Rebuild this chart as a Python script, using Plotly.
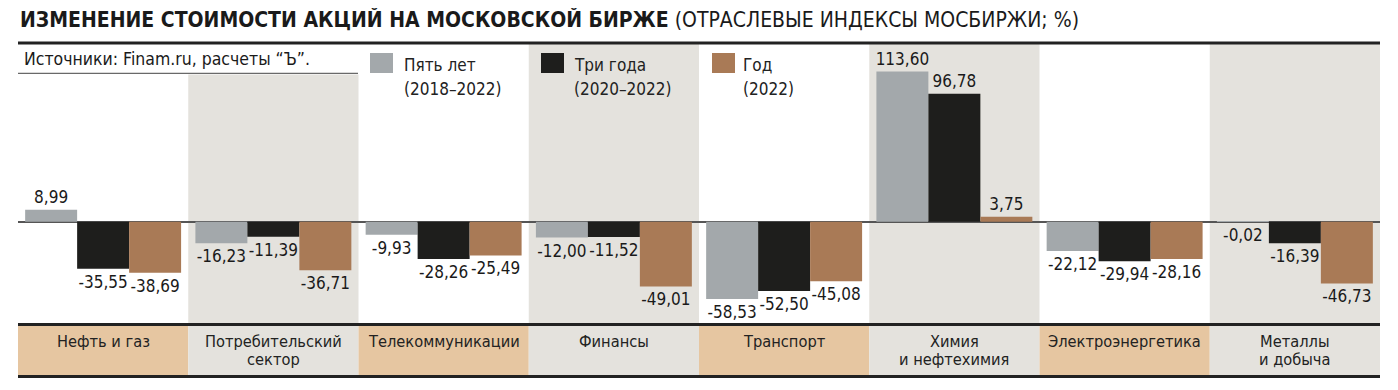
import plotly.graph_objects as go

categories = ["Нефть и газ", "Потребительский сектор", "Телекоммуникации", "Финансы",
              "Транспорт", "Химия и нефтехимия", "Электроэнергетика", "Металлы и добыча"]
cat_lines = [["Нефть и газ"], ["Потребительский", "сектор"], ["Телекоммуникации"], ["Финансы"],
             ["Транспорт"], ["Химия", "и нефтехимия"], ["Электроэнергетика"], ["Металлы", "и добыча"]]
five_years = [8.99, -16.23, -9.93, -12.00, -58.53, 113.60, -22.12, -0.02]
three_years = [-35.55, -11.39, -28.26, -11.52, -52.50, 96.78, -29.94, -16.39]
one_year = [-38.69, -36.71, -25.49, -49.01, -45.08, 3.75, -28.16, -46.73]
series_names = ["Пять лет", "Три года", "Год"]
series_periods = ["(2018–2022)", "(2020–2022)", "(2022)"]
series_colors = ["#a3a8ab", "#1e1e1c", "#a97a56"]

FONT = "Liberation Sans Narrow, DejaVu Sans Condensed, Arial Narrow, sans-serif"
# page has an 8px body margin; figure placed at (8, 8)
OFF = 8
W, H = 1398 - OFF, 390 - OFF
PL, PR, PT, PB = 18, 1380, 44, 323  # plot area in page pixels
L, R, T, B = PL - OFF, W + OFF - PR, PT - OFF, H + OFF - PB
PW, PH = PR - PL, PB - PT


def px(x):
    return (x - PL) / PW


def py(y):
    return (PB - y) / PH


def fmt(v):
    return f"{v:.2f}".replace(".", ",")


fig = go.Figure()
for name, vals, col in zip(series_names, [five_years, three_years, one_year], series_colors):
    fig.add_trace(go.Bar(
        x=list(range(len(categories))), y=vals, name=name, marker=dict(color=col, line=dict(width=0)),
        text=[fmt(v) for v in vals], textposition="outside", constraintext="none",
        cliponaxis=False, textfont=dict(family=FONT, size=17, color="#1a1a1a"),
        hoverinfo="skip"))

shapes = []
annotations = []
n = len(categories)
for i in range(n):
    if i % 2 == 1:
        top = py(74.5) if i == 1 else 1
        shapes.append(dict(type="rect", xref="x", yref="paper", x0=i - 0.5, x1=i + 0.5,
                           y0=0, y1=top, fillcolor="#e4e2dd", line=dict(width=0), layer="below"))
    shapes.append(dict(type="rect", xref="x", yref="paper", x0=i - 0.5, x1=i + 0.5,
                       y0=py(376), y1=0, fillcolor="#e6c6a1" if i % 2 == 0 else "#e4e2dd",
                       line=dict(width=0), layer="below"))
    lines = cat_lines[i]
    ys = [341.5] if len(lines) == 1 else [341.5, 359.5]
    for t, yy in zip(lines, ys):
        annotations.append(dict(x=i, xref="x", y=py(yy), yref="paper", text=t, showarrow=False,
                                xanchor="center", yanchor="middle",
                                font=dict(family=FONT, size=16.3, color="#222")))

for yy, w in [(43, 3), (324.5, 3), (376.5, 3)]:
    shapes.append(dict(type="line", xref="paper", yref="paper", x0=0, x1=1, y0=py(yy), y1=py(yy),
                       line=dict(color="#222", width=w)))
shapes.append(dict(type="line", xref="paper", yref="paper", x0=0, x1=px(358), y0=py(73.3), y1=py(73.3),
                   line=dict(color="#444", width=1)))

leg_sq_x = [370, 541, 712]
leg_tx_x = [402, 572, 741]
for sx, tx, col, nm, per in zip(leg_sq_x, leg_tx_x, series_colors, series_names, series_periods):
    shapes.append(dict(type="rect", xref="paper", yref="paper", x0=px(sx), x1=px(sx + 23),
                       y0=py(73), y1=py(53), fillcolor=col, line=dict(width=0)))
    annotations.append(dict(x=px(tx), xref="paper", y=py(65), yref="paper", text=nm, showarrow=False,
                            xanchor="left", yanchor="middle", font=dict(family=FONT, size=17, color="#222")))
    annotations.append(dict(x=px(tx), xref="paper", y=py(88.5), yref="paper", text=per, showarrow=False,
                            xanchor="left", yanchor="middle", font=dict(family=FONT, size=17, color="#222")))

annotations.append(dict(x=0, xref="paper", y=py(19.5), yref="paper",
                        text="<b>ИЗМЕНЕНИЕ СТОИМОСТИ АКЦИЙ НА МОСКОВСКОЙ БИРЖЕ</b> (ОТРАСЛЕВЫЕ ИНДЕКСЫ МОСБИРЖИ; %)",
                        showarrow=False, xanchor="left", yanchor="middle",
                        font=dict(family=FONT, size=21, color="#1a1a1a")))
annotations.append(dict(x=px(22), xref="paper", y=py(58.5), yref="paper",
                        text="Источники: Finam.ru, расчеты “Ъ”.", showarrow=False,
                        xanchor="left", yanchor="middle", font=dict(family=FONT, size=17.5, color="#1a1a1a")))

zero_px = 221.7
scale = 1.322
fig.update_layout(
    width=W, height=H, margin=dict(l=L, r=R, t=T, b=B, pad=0),
    paper_bgcolor="white", plot_bgcolor="white",
    barmode="group", bargap=0.084, bargroupgap=0,
    showlegend=False,
    xaxis=dict(range=[-0.5, n - 0.5], showticklabels=False, showgrid=False, zeroline=False,
               fixedrange=True),
    yaxis=dict(range=[-(PB - zero_px) / scale, (zero_px - PT) / scale], showticklabels=False,
               showgrid=False, zeroline=True, zerolinecolor="#555", zerolinewidth=1.5, fixedrange=True),
    shapes=shapes, annotations=annotations,
)

fig.write_html("out.html")
